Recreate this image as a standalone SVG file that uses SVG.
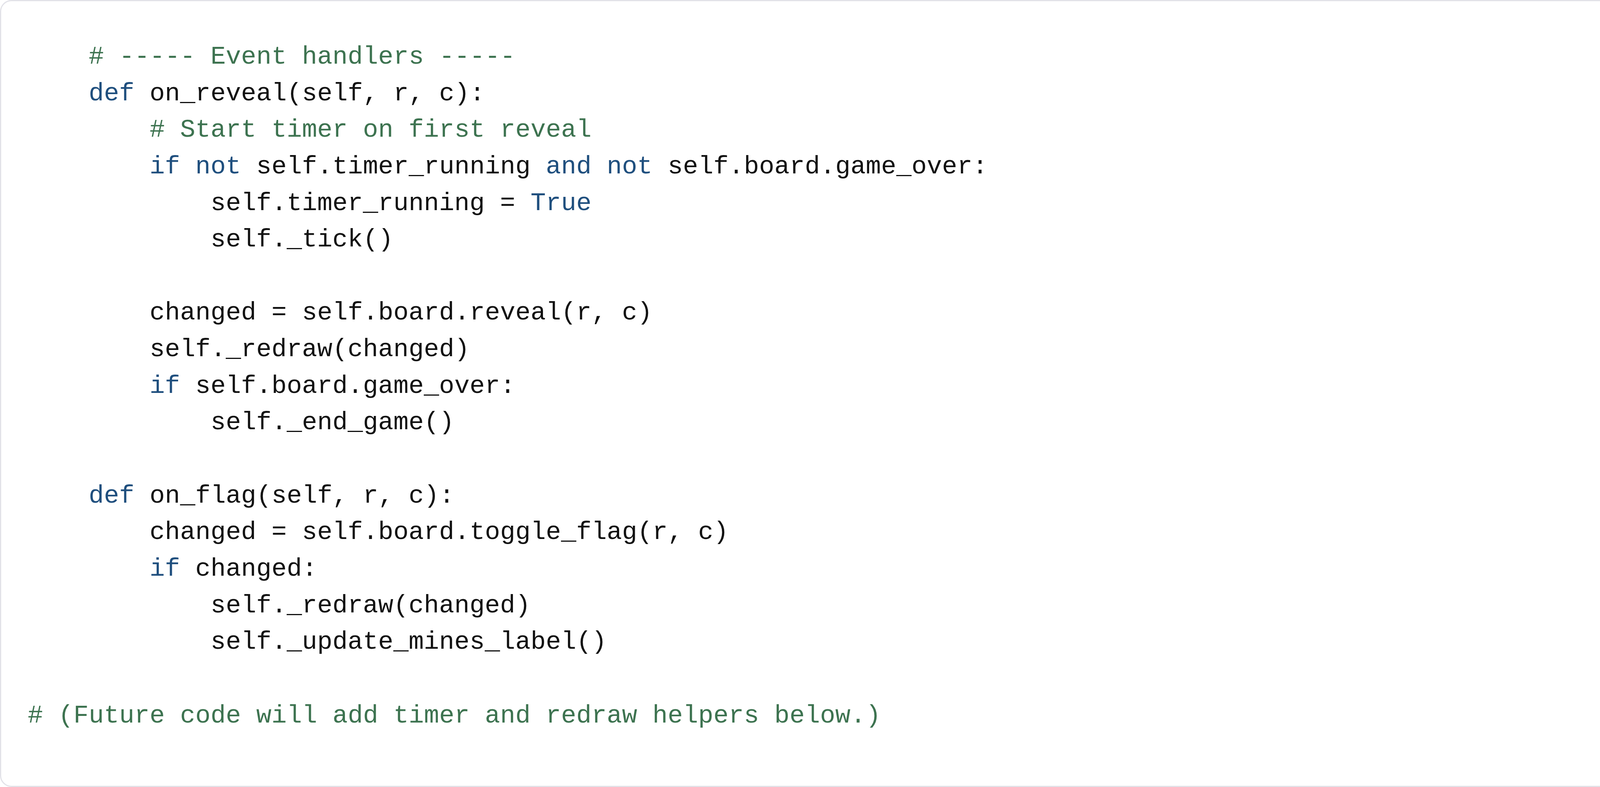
<svg xmlns="http://www.w3.org/2000/svg" width="4688" height="2015" viewBox="0 0 4688 2015">
<style>
text{font-family:"Liberation Mono","DejaVu Sans Mono",monospace;font-size:65px;fill:#111111;white-space:pre}
.c{fill:#3d7350}
.k{fill:#1f4f7e}
</style>
<rect x="1.5" y="1.5" width="4685" height="2012" rx="28" ry="28" fill="#ffffff" stroke="#e2e2e8" stroke-width="3"/>
<g id="code">
<text x="227" y="163" class="c"># ----- Event handlers -----</text>
<text x="227" y="257"><tspan class="k">def</tspan> on_reveal(self, r, c):</text>
<text x="383" y="350" class="c"># Start timer on first reveal</text>
<text x="383" y="444"><tspan class="k">if</tspan> <tspan class="k">not</tspan> self.timer_running <tspan class="k">and</tspan> <tspan class="k">not</tspan> self.board.game_over:</text>
<text x="539" y="538">self.timer_running = <tspan class="k">True</tspan></text>
<text x="539" y="631">self._tick()</text>
<text x="383" y="818">changed = self.board.reveal(r, c)</text>
<text x="383" y="912">self._redraw(changed)</text>
<text x="383" y="1006"><tspan class="k">if</tspan> self.board.game_over:</text>
<text x="539" y="1099">self._end_game()</text>
<text x="227" y="1287"><tspan class="k">def</tspan> on_flag(self, r, c):</text>
<text x="383" y="1380">changed = self.board.toggle_flag(r, c)</text>
<text x="383" y="1474"><tspan class="k">if</tspan> changed:</text>
<text x="539" y="1568">self._redraw(changed)</text>
<text x="539" y="1661">self._update_mines_label()</text>
<text x="71" y="1850" class="c"># (Future code will add timer and redraw helpers below.)</text>
</g>
</svg>
